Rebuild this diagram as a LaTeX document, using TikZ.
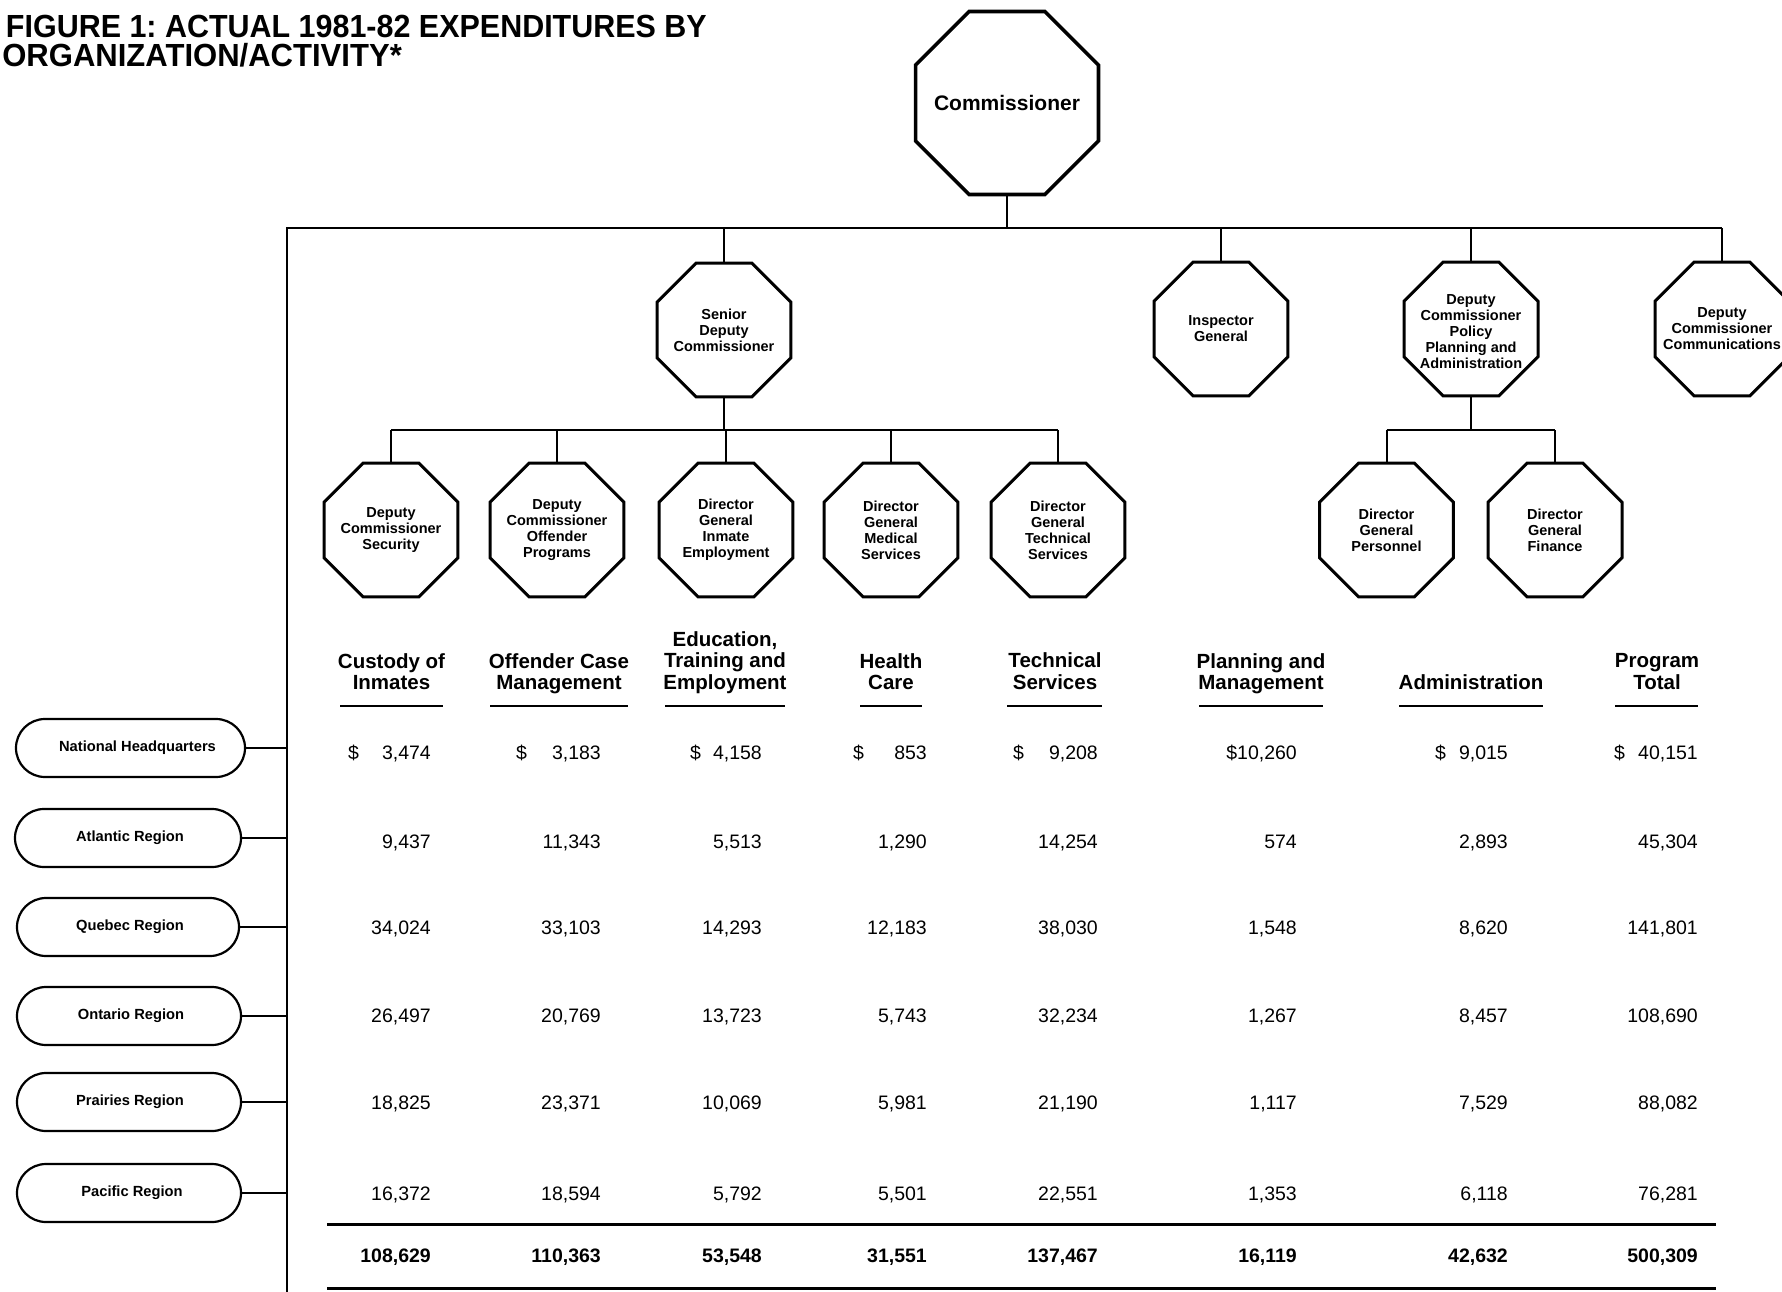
\documentclass[tikz,border=0pt]{standalone}
\usepackage{fontspec}
\setmainfont{Liberation Sans}
\usetikzlibrary{shapes.geometric}
\frenchspacing
\newcommand\datarow[4][]{%
  \foreach \v [count=\c] in {#4} {%
    \pgfmathsetmacro\xx{{431,601,762,927,1098,1297,1508,1698}[\c-1]}%
    \node[num,#1] (#2c\c) at (\xx,#3) {\v};
  }}
\begin{document}
\begin{tikzpicture}[x=1pt,y=-1pt,
  oct/.style={draw, line width=3pt, regular polygon, regular polygon sides=8,
    minimum size=145pt, inner sep=0pt},
  bigoct/.style={oct, line width=3.6pt, minimum size=198pt},
  octtxt/.style={align=center, inner sep=0pt, font=\fontsize{14.5}{16}\selectfont\bfseries},
  bigtxt/.style={inner sep=0pt, font=\fontsize{21}{24}\selectfont\bfseries},
  pill/.style={draw, line width=2.2pt, rounded corners=29pt, minimum height=58pt,
    inner sep=0pt},
  pilltxt/.style={inner sep=0pt, font=\fontsize{14.7}{16}\selectfont\bfseries},
  conn/.style={line width=2pt},
  hdr/.style={anchor=base, inner sep=0pt, font=\fontsize{20.5}{21}\selectfont\bfseries},
  num/.style={anchor=base east, inner sep=0pt, font=\fontsize{19.5}{21}\selectfont},
  dol/.style={anchor=base west, inner sep=0pt, font=\fontsize{19.5}{21}\selectfont},
  uline/.style={line width=2.5pt},
  tablerule/.style={line width=3pt},
  ttl/.style={anchor=base east, inner sep=0pt, font=\fontsize{32}{30}\selectfont\bfseries},
]
\useasboundingbox (0,0) rectangle (1782,1292);

% title
\node[ttl] (t1) at (707,38) {\scalebox{0.952}[1]{FIGURE 1: ACTUAL 1981-82 EXPENDITURES BY}};
\node[ttl] (t2) at (402,67) {\scalebox{0.97}[1]{ORGANIZATION/ACTIVITY*}};

% top
\node[bigoct] (comm) at (1007,103) {};
\node[bigtxt] (comm-t) at (comm.center) {Commissioner};
\coordinate (busL) at (287,228);
\coordinate (busR) at (1722,228);
\coordinate (busB) at (287,1300);
\draw[conn] (busR) -- (busL) -- (busB);
\draw[conn] (comm.south) -- (comm.south |- busL);

% row 2
\node[oct] (sdc) at (724,330) {};
\node[oct] (ig) at (1221,329) {};
\node[oct] (dcp) at (1471,329) {};
\node[oct] (dcc) at (1722,329) {};
\node[octtxt] (sdc-t) at (sdc.center) {Senior\\Deputy\\Commissioner};
\node[octtxt] (ig-t) at (ig.center) {Inspector\\General};
\node[octtxt] (dcp-t) at ([yshift=-3pt]dcp.center) {Deputy\\Commissioner\\Policy\\Planning and\\Administration};
\node[octtxt] (dcc-t) at (dcc.center) {Deputy\\Commissioner\\Communications};
\foreach \n in {sdc,ig,dcp,dcc} \draw[conn] (\n.north) -- (\n.north |- busL);

% row 3
\node[oct] (dcs) at (391,530) {};
\node[oct] (dcop) at (557,530) {};
\node[oct] (dgie) at (726,530) {};
\node[oct] (dgms) at (891,530) {};
\node[oct] (dgts) at (1058,530) {};
\node[oct] (dgp) at (1386.5,530) {};
\node[oct] (dgf) at (1555,530) {};
\node[octtxt] (dcs-t) at (dcs.center) {Deputy\\Commissioner\\Security};
\node[octtxt] (dcop-t) at (dcop.center) {Deputy\\Commissioner\\Offender\\Programs};
\node[octtxt] (dgie-t) at (dgie.center) {Director\\General\\Inmate\\Employment};
\node[octtxt] (dgms-t) at (dgms.center) {Director\\General\\Medical\\Services};
\node[octtxt] (dgts-t) at (dgts.center) {Director\\General\\Technical\\Services};
\node[octtxt] (dgp-t) at (dgp.center) {Director\\General\\Personnel};
\node[octtxt] (dgf-t) at (dgf.center) {Director\\General\\Finance};

\coordinate (b2) at (0,429.5);
\draw[conn] (sdc.south) -- (sdc.south |- b2);
\draw[conn] (dcs.north |- b2) -- (dgts.north |- b2);
\foreach \n in {dcs,dcop,dgie,dgms,dgts} \draw[conn] (\n.north) -- (\n.north |- b2);
\draw[conn] (dcp.south) -- (dcp.south |- b2);
\draw[conn] (dgp.north |- b2) -- (dgf.north |- b2);
\foreach \n in {dgp,dgf} \draw[conn] (\n.north) -- (\n.north |- b2);

% headers
\node[hdr] (h1) at (391.5,689) {\begin{tabular}[b]{@{}c@{}}Custody of\\Inmates\end{tabular}};
\node[hdr] (h2) at (559,689) {\begin{tabular}[b]{@{}c@{}}Offender Case\\Management\end{tabular}};
\node[hdr] (h3) at (725,689) {\begin{tabular}[b]{@{}c@{}}Education,\\Training and\\Employment\end{tabular}};
\node[hdr] (h4) at (891,689) {\begin{tabular}[b]{@{}c@{}}Health\\Care\end{tabular}};
\node[hdr] (h5) at (1055,689) {\begin{tabular}[b]{@{}c@{}}Technical\\Services\end{tabular}};
\node[hdr] (h6) at (1261,689) {\begin{tabular}[b]{@{}c@{}}Planning and\\Management\end{tabular}};
\node[hdr] (h7) at (1471,689) {\begin{tabular}[b]{@{}c@{}}Administration\end{tabular}};
\node[hdr] (h8) at (1657,689) {\begin{tabular}[b]{@{}c@{}}Program\\Total\end{tabular}};

\draw[uline] (340,706) -- (443,706);
\draw[uline] (490,706) -- (628,706);
\draw[uline] (665,706) -- (785,706);
\draw[uline] (860,706) -- (922,706);
\draw[uline] (1007,706) -- (1102,706);
\draw[uline] (1199,706) -- (1323,706);
\draw[uline] (1399,706) -- (1543,706);
\draw[uline] (1615,706) -- (1698,706);

% regions
\node[pill, minimum width=229pt] (nhq) at (130.5,748) {};
\node[pill, minimum width=226pt] (atl) at (128,838) {};
\node[pill, minimum width=222pt] (que) at (128,927) {};
\node[pill, minimum width=224pt] (ont) at (129,1016) {};
\node[pill, minimum width=224pt] (pra) at (129,1102) {};
\node[pill, minimum width=224pt] (pac) at (129,1193) {};
\node[pilltxt] (nhq-t) at ([xshift=7pt]nhq.center) {National Headquarters};
\node[pilltxt] (atl-t) at ([xshift=2pt]atl.center) {Atlantic Region};
\node[pilltxt] (que-t) at ([xshift=2pt]que.center) {Quebec Region};
\node[pilltxt] (ont-t) at ([xshift=2pt]ont.center) {Ontario Region};
\node[pilltxt] (pra-t) at ([xshift=1pt]pra.center) {Prairies Region};
\node[pilltxt] (pac-t) at ([xshift=3pt]pac.center) {Pacific Region};
\foreach \p in {nhq,atl,que,ont,pra,pac} \draw[conn] (\p.east) -- (\p.east -| busL);

% data
\node[dol] (d1) at (348,759) {\$};
\node[dol] (d2) at (516,759) {\$};
\node[dol] (d3) at (690,759) {\$};
\node[dol] (d4) at (853,759) {\$};
\node[dol] (d5) at (1013,759) {\$};
\node[dol] (d7) at (1435,759) {\$};
\node[dol] (d8) at (1614,759) {\$};
\datarow{ra}{759}{{3,474},{3,183},{4,158},{853},{9,208},{\$10,260},{9,015},{40,151}}
\datarow{rb}{848}{{9,437},{11,343},{5,513},{1,290},{14,254},{574},{2,893},{45,304}}
\datarow{rc}{934}{{34,024},{33,103},{14,293},{12,183},{38,030},{1,548},{8,620},{141,801}}
\datarow{rd}{1022}{{26,497},{20,769},{13,723},{5,743},{32,234},{1,267},{8,457},{108,690}}
\datarow{re}{1109}{{18,825},{23,371},{10,069},{5,981},{21,190},{1,117},{7,529},{88,082}}
\datarow{rf}{1200}{{16,372},{18,594},{5,792},{5,501},{22,551},{1,353},{6,118},{76,281}}
\datarow[font=\fontsize{19.5}{21}\selectfont\bfseries]{rg}{1262}{{108,629},{110,363},{53,548},{31,551},{137,467},{16,119},{42,632},{500,309}}

\draw[tablerule] (327,1224) -- (1716,1224);
\draw[tablerule] (327,1288) -- (1716,1288);
\end{tikzpicture}
\end{document}
